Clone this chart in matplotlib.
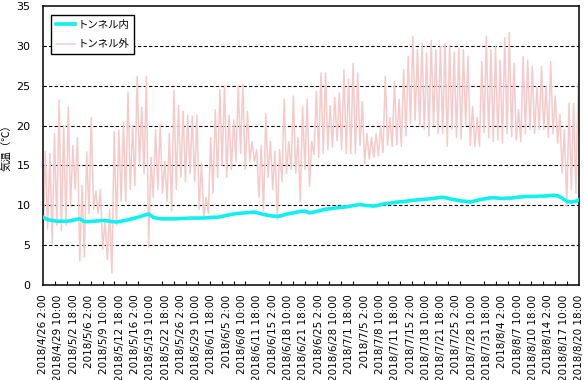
import matplotlib
matplotlib.use("Agg")
import matplotlib.pyplot as plt
import numpy as np

# tick labels, one every 80 hours from 2018/4/26 2:00
tick_labels = [
    "2018/4/26 2:00", "2018/4/29 10:00", "2018/5/2 18:00", "2018/5/6 2:00",
    "2018/5/9 10:00", "2018/5/12 18:00", "2018/5/16 2:00", "2018/5/19 10:00",
    "2018/5/22 18:00", "2018/5/26 2:00", "2018/5/29 10:00", "2018/6/1 18:00",
    "2018/6/5 2:00", "2018/6/8 10:00", "2018/6/11 18:00", "2018/6/15 2:00",
    "2018/6/18 10:00", "2018/6/21 18:00", "2018/6/25 2:00", "2018/6/28 10:00",
    "2018/7/1 18:00", "2018/7/5 2:00", "2018/7/8 10:00", "2018/7/11 18:00",
    "2018/7/15 2:00", "2018/7/18 10:00", "2018/7/21 18:00", "2018/7/25 2:00",
    "2018/7/28 10:00", "2018/7/31 18:00", "2018/8/4 2:00", "2018/8/7 10:00",
    "2018/8/10 18:00", "2018/8/14 2:00", "2018/8/17 10:00", "2018/8/20 18:00",
]

# outside the tunnel: daily low (2:00) and high (14:00), 4/26 .. 8/20
outside_low = [
    5.3, 7.0, 5.2, 7.5, 6.8, 7.5, 10.0, 12.0, 3.0, 3.5,
    9.0, 9.5, 9.0, 4.5, 3.2, 1.5, 7.5, 10.5, 10.5, 12.0,
    12.5, 15.0, 14.0, 4.8, 11.0, 12.0, 11.5, 10.5, 9.3, 12.0,
    13.5, 13.0, 14.0, 13.0, 9.5, 8.5, 9.0, 11.5, 13.5, 15.0,
    13.5, 14.5, 15.5, 16.5, 14.5, 15.5, 15.5, 11.0, 9.3, 13.5,
    12.0, 8.2, 13.0, 14.0, 14.5, 14.0, 10.5, 14.5, 12.4, 16.4,
    16.0, 16.5, 17.0, 17.3, 18.1, 17.0, 16.5, 16.5, 16.5, 17.5,
    15.2, 15.8, 16.0, 16.2, 16.6, 17.5, 17.4, 17.6, 17.4, 18.7,
    20.3, 20.7, 19.9, 19.5, 18.7, 20.0, 19.0, 19.0, 17.4, 19.5,
    18.5, 18.3, 20.0, 17.5, 17.4, 17.4, 19.1, 18.5, 18.0, 18.2,
    17.8, 19.0, 18.6, 18.2, 18.0, 19.0, 19.5, 19.0, 19.5, 19.5,
    18.5, 19.0, 17.8, 14.0, 9.9, 12.0, 11.5,
]
outside_high = [
    16.8, 16.5, 19.0, 23.2, 20.0, 22.3, 17.5, 18.5, 12.5, 16.7,
    21.0, 11.8, 12.0, 8.0, 9.5, 19.2, 19.4, 20.4, 24.2, 20.0,
    26.2, 22.3, 26.2, 16.0, 19.5, 20.2, 15.5, 19.0, 24.4, 22.5,
    21.8, 21.3, 21.2, 21.3, 15.3, 11.0, 18.5, 22.0, 24.5, 25.0,
    21.3, 20.7, 25.0, 25.2, 21.8, 18.0, 17.0, 17.5, 21.5, 18.0,
    16.8, 17.0, 23.3, 18.0, 23.7, 18.5, 22.4, 23.3, 18.0, 24.3,
    26.6, 26.6, 22.5, 23.5, 24.1, 27.0, 25.8, 27.8, 26.6, 23.0,
    19.0, 18.5, 19.0, 20.0, 26.2, 21.0, 25.5, 23.3, 27.0, 28.7,
    31.2, 29.5, 30.3, 29.1, 30.7, 29.5, 29.9, 30.3, 30.1, 29.2,
    29.7, 29.5, 28.7, 22.4, 21.0, 28.0, 31.2, 29.5, 29.9, 28.2,
    31.0, 31.7, 27.8, 22.0, 28.7, 28.2, 27.4, 24.9, 27.4, 24.9,
    28.0, 23.7, 21.4, 19.5, 22.8, 22.8, 25.5,
]
outside_last = 19.0  # 8/20 18:00

# inside the tunnel: one reading per day at 2:00, plus 8/20 18:00
inside = [
    8.5, 8.2, 8.1, 8.0, 8.0, 8.0, 8.05, 8.2, 8.3, 7.95,
    7.95, 8.0, 8.05, 8.1, 8.05, 7.95, 7.9, 8.0, 8.1, 8.25,
    8.4, 8.55, 8.75, 8.9, 8.5, 8.35, 8.3, 8.3, 8.3, 8.3,
    8.35, 8.35, 8.4, 8.4, 8.4, 8.4, 8.45, 8.5, 8.5, 8.6,
    8.75, 8.85, 8.95, 9.0, 9.05, 9.1, 9.15, 9.0, 8.85, 8.75,
    8.65, 8.6, 8.7, 8.9, 9.0, 9.1, 9.25, 9.25, 9.05, 9.15,
    9.3, 9.45, 9.55, 9.6, 9.7, 9.75, 9.8, 9.9, 10.0, 10.1,
    10.0, 9.95, 9.9, 10.0, 10.15, 10.25, 10.3, 10.4, 10.45, 10.5,
    10.6, 10.65, 10.7, 10.75, 10.8, 10.85, 10.95, 11.0, 10.9, 10.75,
    10.65, 10.55, 10.5, 10.4, 10.55, 10.7, 10.8, 10.9, 10.95, 10.9,
    10.85, 10.9, 10.9, 11.0, 11.05, 11.1, 11.1, 11.1, 11.15, 11.15,
    11.2, 11.25, 11.2, 10.9, 10.5, 10.4, 10.5, 10.7,
]

# hours since 2018/4/26 2:00
n_days = len(outside_low)
out_x, out_y = [], []
for d in range(n_days):
    out_x += [24 * d, 24 * d + 12]
    out_y += [outside_low[d], outside_high[d]]
out_x.append(24 * (n_days - 1) + 16)
out_y.append(outside_last)

in_x = [24 * d for d in range(len(inside) - 1)] + [24 * (n_days - 1) + 16]

plt.rcParams['font.family'] = ['DejaVu Sans']
jp = ['Noto Sans CJK JP', 'DejaVu Sans']

fig = plt.figure(figsize=(5.84, 3.80), dpi=100)
ax = fig.add_axes([43 / 584, 95 / 380, 536 / 584, 279 / 380])

ax.plot(in_x, inside, color='#10f0f0', lw=2.6, label='トンネル内', zorder=3)
ax.plot(out_x, out_y, color='#f6caca', lw=1.1, label='トンネル外', zorder=2)

ax.set_xlim(0, 2800)
ax.set_ylim(0, 35)
ax.set_yticks(range(0, 36, 5))
ax.tick_params(axis='y', length=0, labelsize=8, pad=9)

ax.set_xticks(np.arange(0, 2801, 80))
ax.set_xticklabels(tick_labels, rotation=90, fontsize=7.5)
ax.set_xticks(np.linspace(0, 2800, 46), minor=True)
ax.tick_params(axis='x', which='major', length=0, pad=7)
ax.tick_params(axis='x', which='minor', direction='in', length=3, width=0.8)

for v in range(5, 35, 5):
    ax.axhline(v, color='black', lw=0.8, ls=(0, (3, 2)), zorder=1)

for s in ax.spines.values():
    s.set_linewidth(1.1)
    s.set_color('black')

ax.set_ylabel('気温（℃）', family=jp, fontsize=7.5, labelpad=3)

leg = ax.legend(loc='upper left', bbox_to_anchor=(0.005, 0.985), prop={'family': jp, 'size': 7.5},
                fancybox=False, framealpha=1, edgecolor='black', handlelength=1.9,
                handletextpad=0.2, borderpad=0.45, labelspacing=0.9)
leg.get_frame().set_linewidth(1.0)

fig.savefig('out.png', dpi=100)
